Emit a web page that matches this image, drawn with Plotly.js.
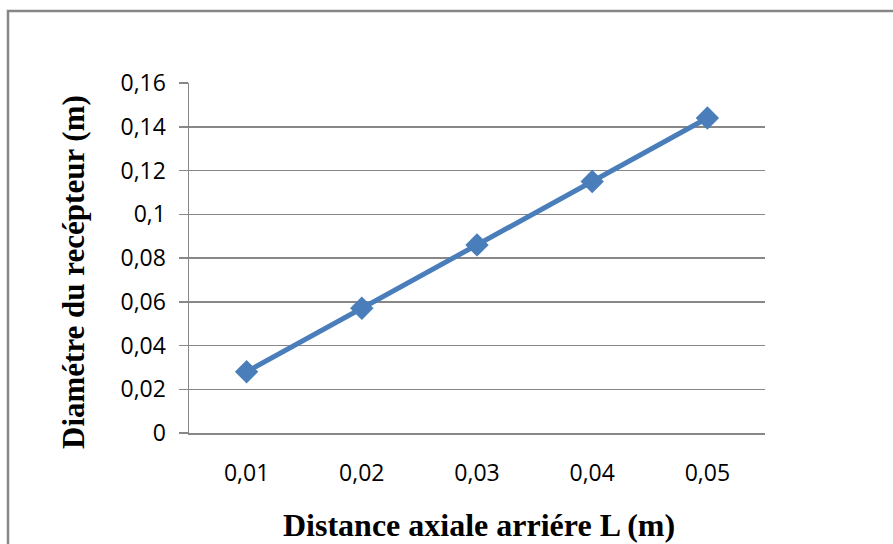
<!DOCTYPE html>
<html>
<head>
<meta charset="utf-8">
<script src="https://cdn.plot.ly/plotly-3.0.1.min.js"></script>
<style>html,body{margin:0;padding:0;background:#fff;}#chart{width:893px;height:544px;}</style>
</head>
<body>
<div id="chart"></div>
<script>
const categories = ["0,01", "0,02", "0,03", "0,04", "0,05"];
const diameter = [0.028, 0.057, 0.086, 0.115, 0.144];
const yTickVals = [0, 0.02, 0.04, 0.06, 0.08, 0.1, 0.12, 0.14, 0.16];
const yTickText = ["0", "0,02", "0,04", "0,06", "0,08", "0,1", "0,12", "0,14", "0,16"];
const xTitle = "Distance axiale arriére L (m)";
const yTitle = "Diamétre du recépteur (m)";

const grey = "#878787";
const tickFont = {size: 23, family: "'Open Sans', sans-serif", color: "#000"};
const titleFont = {family: "'Liberation Serif', 'Times New Roman', serif", size: 31, color: "#000", weight: "bold"};

const trace = {
  type: "scatter",
  mode: "lines+markers",
  x: categories,
  y: diameter,
  line: {color: "#4a7ebb", width: 5},
  marker: {symbol: "diamond", size: 18, color: "#4a7ebb"},
  showlegend: false,
  hoverinfo: "x+y"
};

const layout = {
  width: 893, height: 544,
  paper_bgcolor: "#ffffff", plot_bgcolor: "#ffffff",
  margin: {l: 189, r: 128, t: 83, b: 111},
  showlegend: false,
  font: {family: "'Open Sans', sans-serif", color: "#000"},
  xaxis: {
    type: "category",
    range: [-0.5, 4.5],
    showgrid: false,
    showline: true, linecolor: grey, linewidth: 1.5,
    ticks: "", ticklabelstandoff: 19,
    tickfont: tickFont,
    zeroline: false, fixedrange: true
  },
  yaxis: {
    range: [0, 0.16],
    tickvals: yTickVals, ticktext: yTickText,
    showgrid: true, gridcolor: grey, gridwidth: 1.5,
    showline: true, linecolor: grey, linewidth: 1.5,
    ticks: "outside", ticklen: 9, tickcolor: grey, tickwidth: 1.5,
    tickfont: tickFont,
    ticklabelstandoff: 8,
    zeroline: false, fixedrange: true
  },
  annotations: [{
    text: yTitle, textangle: -90, showarrow: false,
    xref: "paper", yref: "paper",
    x: (73 - 189) / 576, y: (433 - 272) / 350,
    xanchor: "center", yanchor: "middle",
    font: titleFont
  }, {
    text: xTitle, showarrow: false,
    xref: "paper", yref: "paper",
    x: (479 - 189) / 576, y: (433 - 525) / 350,
    xanchor: "center", yanchor: "middle",
    font: Object.assign({}, titleFont, {size: 32})
  }],
  shapes: [{
    type: "rect", xref: "paper", yref: "paper",
    x0: -181/576, x1: 720/576, y0: -150/350, y1: (350+72)/350,
    line: {color: grey, width: 2.5}, fillcolor: "rgba(0,0,0,0)", layer: "below"
  }]
};

Plotly.newPlot("chart", [trace], layout, {displayModeBar: false, staticPlot: true});
</script>
</body>
</html>
